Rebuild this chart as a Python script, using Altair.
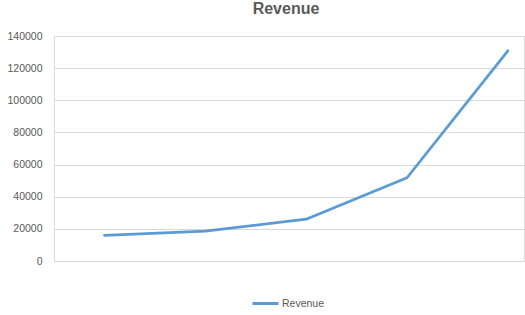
import altair as alt
import pandas as pd

# Data
period = [1, 2, 3, 4, 5]
revenue = [16000, 18600, 26000, 51800, 130800]
series = ["Revenue"] * 5
y_ticks = [0, 20000, 40000, 60000, 80000, 100000, 120000, 140000]

df = pd.DataFrame({"period": period, "Revenue": revenue, "series": series})

FONT = "Liberation Sans"
GREY = "#595959"

chart = (
    alt.Chart(df)
    .mark_line(strokeWidth=2.75, strokeCap="round", strokeJoin="round")
    .encode(
        x=alt.X("period:Q", axis=None, scale=alt.Scale(domain=[0.5, 5.16], nice=False, zero=False)),
        y=alt.Y(
            "Revenue:Q",
            scale=alt.Scale(domain=[0, 140000], nice=False),
            axis=alt.Axis(
                title=None,
                values=y_ticks,
                format="d",
                domain=False,
                domainColor="transparent",
                domainOpacity=0,
                ticks=False,
                labelPadding=12,
                labelFont=FONT,
                labelFontSize=10.5,
                labelColor=GREY,
                gridColor="#d9d9d9",
                gridWidth=1,
            ),
        ),
        color=alt.Color(
            "series:N",
            scale=alt.Scale(range=["#5B9BD5"]),
            legend=alt.Legend(
                title=None,
                orient="none",
                legendX=197,
                legendY=253,
                symbolType="stroke",
                symbolSize=676,
                symbolStrokeWidth=3,
                labelFont=FONT,
                labelFontSize=10.5,
                labelColor=GREY,
                labelOffset=2,
            ),
        ),
    )
    .properties(
        width=470,
        height=225,
        padding={"left": 54, "top": 36, "right": 1, "bottom": 54},
        autosize=alt.AutoSizeParams(type="none"),
        title=alt.TitleParams(
            "Revenue",
            font=FONT,
            fontSize=16,
            fontWeight="bold",
            color=GREY,
            anchor="middle",
            dx=-3,
            dy=-10,
        ),
    )
    .configure_view(stroke="transparent", strokeWidth=0, strokeOpacity=0)
    .configure(background="white")
)

chart.save("out.html", embed_options={"renderer": "svg", "actions": False})
